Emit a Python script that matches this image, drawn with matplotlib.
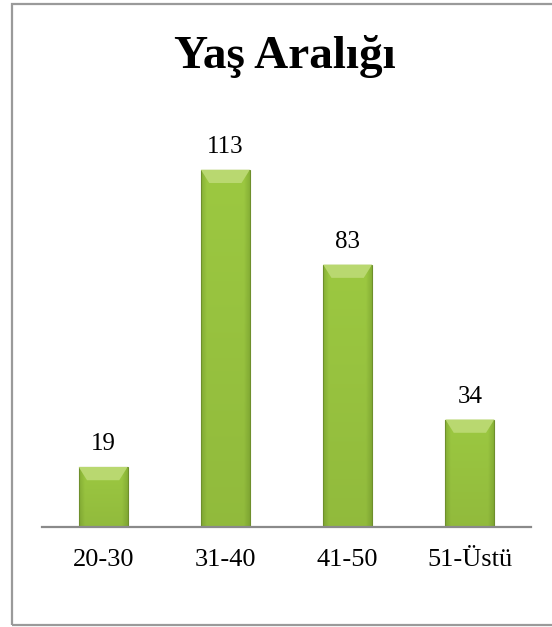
import matplotlib.pyplot as plt
import numpy as np
from matplotlib.patches import Rectangle, Polygon

# data
categories = ["20-30", "31-40", "41-50", "51-Üstü"]
counts = [19, 113, 83, 34]
title = "Yaş Aralığı"

plt.rcParams['font.family'] = ['Liberation Serif', 'DejaVu Serif']

fig = plt.figure(figsize=(5.52, 6.27), dpi=100)
fig.patch.set_facecolor('white')

# outer frame (runs off the right edge like the original)
fig.patches.append(Rectangle((12 / 552, 2 / 627), 1.0, 621 / 627, transform=fig.transFigure,
                             fill=False, edgecolor='#9a9a9a', linewidth=1.6))

ax = fig.add_axes([42 / 552, 100 / 627, 489 / 552, 411 / 627])
ax.set_xlim(-0.5, len(categories) - 0.5)
ax.set_ylim(0, 130)

bar_w = 0.4
# horizontal shading: darker at the edges, lighter in the middle
u = np.linspace(0, 1, 60)
edge = np.clip(np.minimum(u, 1 - u) / 0.12, 0, 1)
body_light = np.array([0.60, 0.77, 0.25])
body_dark = np.array([0.43, 0.58, 0.16])

for i, v in enumerate(counts):
    x0 = i - bar_w / 2
    nrow = 80
    t = np.linspace(0, 1, nrow)[:, None]  # 0 bottom -> 1 top
    base = body_dark + (body_light - body_dark) * (0.55 + 0.45 * edge[None, :])[..., None]
    base = base * (0.95 + 0.07 * t)[..., None]
    img = np.clip(base, 0, 1)
    im = ax.imshow(img, extent=(x0, x0 + bar_w, 0, v), origin='lower',
                   aspect='auto', interpolation='bilinear', zorder=2)
    rect = Rectangle((x0, 0), bar_w, v, transform=ax.transData, facecolor='none',
                     edgecolor='#6e8f2c', linewidth=0.8, zorder=3)
    ax.add_patch(rect)
    im.set_clip_path(rect)
    # top bevel
    bh = 4.2
    bx = bar_w * 0.17
    ax.add_patch(Polygon([(x0, v), (x0 + bar_w, v), (x0 + bar_w - bx, v - bh), (x0 + bx, v - bh)],
                         closed=True, facecolor='#b9d870', edgecolor='none', zorder=3))
    ax.annotate(str(v), (i, v), xytext=(0, 8.5), textcoords='offset points',
                ha='center', va='bottom', fontsize=18, color='black')

ax.set_xticks(range(len(categories)))
ax.set_xticklabels(categories, fontsize=19)
ax.tick_params(axis='x', length=0, pad=16)
ax.set_yticks([])
for s in ['top', 'right', 'left']:
    ax.spines[s].set_visible(False)
ax.spines['bottom'].set_color('#8a8a8a')
ax.spines['bottom'].set_linewidth(1.6)
ax.spines['bottom'].set_zorder(4)

fig.text(285 / 552, 1 - 68 / 627, title, ha='center', va='baseline',
         fontsize=34, fontweight='bold')

fig.savefig('out.png', dpi=100)
